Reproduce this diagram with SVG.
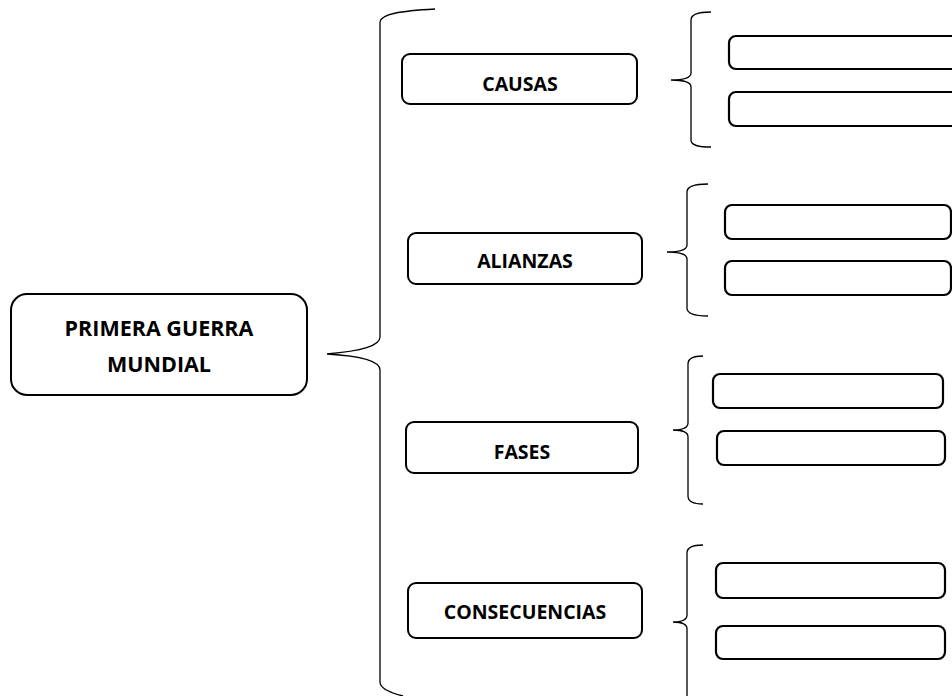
<svg xmlns="http://www.w3.org/2000/svg" width="952" height="696" viewBox="0 0 952 696">
<style>
.box{fill:#fff;stroke:#000;stroke-width:2}
.slot{fill:#fff;stroke:#000;stroke-width:2.2}
.br{fill:none;stroke:#000;stroke-width:1.3}
.t{font-family:"Open Sans","Liberation Sans",sans-serif;font-weight:bold;fill:#000;text-anchor:middle}
.c{font-size:19.5px}
.m{font-size:21.5px}
</style>
<rect width="952" height="696" fill="#fff"/>
<g id="connectors">
<path class="br" d="M435,9 C400,11 381,14 380,22 L380,337 C380,346 362,351 327,354 C362,356 380,361 380,370 L380,682 C380,690 395,694 403,696"/>
<path class="br" d="M711,12 C700,12 691,14 691,20 L691,73 C691,78 685,80 671,80 C685,80 691,82 691,87 L691,140 C691,146 700,147 711,147"/>
<path class="br" d="M708,184 C697,184 687,186 687,192 L687,245 C687,250 681,252 667,252 C681,252 687,254 687,259 L687,308 C687,314 697,316 708,316"/>
<path class="br" d="M703,356 C694,356 688,358 688,364 L688,423 C688,428 683,430 673,430 C683,430 688,432 688,437 L688,496 C688,502 694,504 703,504"/>
<path class="br" d="M703,545 C694,545 687,547 687,553 L687,615 C687,620 682,622 673,622 C682,622 687,624 687,629 L687,700"/>
</g>
<g id="main">
<rect class="box" x="11" y="294" width="296" height="101" rx="16"/>
<text class="t m" x="159" y="336">PRIMERA GUERRA</text>
<text class="t m" x="159" y="372">MUNDIAL</text>
</g>
<g id="causas">
<rect class="box" x="402" y="54" width="235" height="50" rx="8"/>
<text class="t c" x="520" y="91">CAUSAS</text>
</g>
<g id="alianzas">
<rect class="box" x="408" y="233" width="234" height="51" rx="8"/>
<text class="t c" x="525" y="268">ALIANZAS</text>
</g>
<g id="fases">
<rect class="box" x="406" y="422" width="232" height="51" rx="8"/>
<text class="t c" x="522" y="459">FASES</text>
</g>
<g id="consecuencias">
<rect class="box" x="408" y="583" width="234" height="55" rx="8"/>
<text class="t c" x="525" y="619">CONSECUENCIAS</text>
</g>
<g id="causas-1"><rect class="slot" x="729" y="36" width="240" height="33" rx="7"/></g>
<g id="causas-2"><rect class="slot" x="729" y="92" width="240" height="34" rx="7"/></g>
<g id="alianzas-1"><rect class="slot" x="725" y="205" width="226" height="34" rx="7"/></g>
<g id="alianzas-2"><rect class="slot" x="725" y="261" width="226" height="34" rx="7"/></g>
<g id="fases-1"><rect class="slot" x="713" y="374" width="230" height="34" rx="7"/></g>
<g id="fases-2"><rect class="slot" x="717" y="431" width="228" height="34" rx="7"/></g>
<g id="consecuencias-1"><rect class="slot" x="716" y="563" width="229" height="35" rx="7"/></g>
<g id="consecuencias-2"><rect class="slot" x="716" y="626" width="229" height="33" rx="7"/></g>
</svg>
